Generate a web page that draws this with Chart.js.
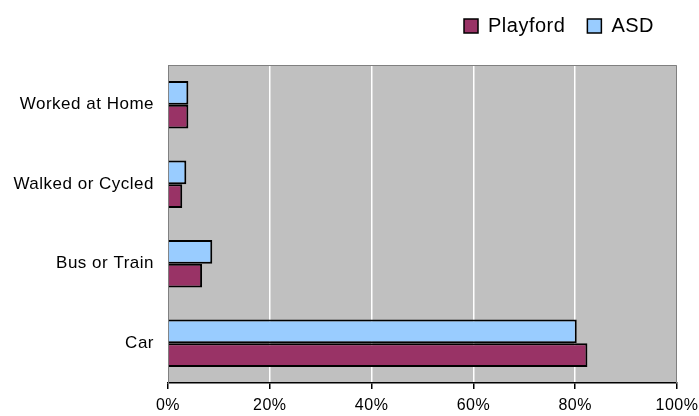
<!DOCTYPE html>
<html>
<head>
<meta charset="utf-8">
<script src="https://cdn.jsdelivr.net/npm/chart.js@4/dist/chart.umd.min.js"></script>
<style>
  html, body { margin: 0; padding: 0; background: #fff; }
  #wrap { width: 699px; height: 416px; }
</style>
</head>
<body>
<div id="wrap"><canvas id="chart"></canvas></div>
<script>
const categories = ['Worked at Home', 'Walked or Cycled', 'Bus or Train', 'Car']
const asdValues = [4.0, 3.6, 8.7, 80.3]
const playfordValues = [4.0, 2.8, 6.7, 82.4]
const xTicks = [0, 20, 40, 60, 80, 100]

const FONT = 'Liberation Sans, Arial, sans-serif'
const LETTER_SPACING = '0.5px'

// the old spreadsheet text is spaced out a little
const spacing = {
  id: 'spacing',
  beforeUpdate (chart) { chart.ctx.letterSpacing = LETTER_SPACING },
  beforeLayout (chart) { chart.ctx.letterSpacing = LETTER_SPACING },
  beforeDraw (chart) { chart.ctx.letterSpacing = LETTER_SPACING }
}

// fixed legend band above the plot
const legendBox = {
  id: 'legendBox',
  afterInit (chart) {
    const legend = chart.legend
    const fit = legend.fit
    legend.fit = function () {
      fit.call(this)
      this.height = 65
    }
  },
  afterLayout (chart) {
    chart.legend.top = -6
    chart.legend.right = 676
  }
}

// grey plot background plus the thin top/right frame
const plotArea = {
  id: 'plotArea',
  beforeDraw (chart) {
    const { ctx, chartArea: a } = chart
    ctx.save()
    ctx.fillStyle = '#C0C0C0'
    ctx.fillRect(a.left, a.top, a.right - a.left, a.bottom - a.top)
    ctx.restore()
  },
  afterDraw (chart) {
    const { ctx, chartArea: a } = chart
    ctx.save()
    ctx.strokeStyle = '#808080'
    ctx.lineWidth = 1
    ctx.beginPath()
    ctx.moveTo(a.left, a.top + 0.5)
    ctx.lineTo(a.right - 0.5, a.top + 0.5)
    ctx.lineTo(a.right - 0.5, a.bottom)
    ctx.stroke()
    ctx.restore()
  }
}

new Chart(document.getElementById('chart'), {
  type: 'bar',
  data: {
    labels: categories,
    datasets: [{
      label: 'ASD',
      data: asdValues,
      backgroundColor: '#99CCFF',
      borderColor: '#000',
      borderWidth: 2
    }, {
      label: 'Playford',
      data: playfordValues,
      backgroundColor: '#993366',
      borderColor: '#000',
      borderWidth: 2
    }]
  },
  options: {
    indexAxis: 'y',
    responsive: true,
    maintainAspectRatio: false,
    animation: false,
    categoryPercentage: 0.6,
    barPercentage: 1,
    layout: { padding: { top: 0, right: 22, bottom: 0, left: 0 } },
    plugins: {
      legend: {
        align: 'end',
        reverse: true,
        labels: {
          color: '#000',
          font: { family: FONT, size: 20 },
          boxWidth: 14,
          boxHeight: 14,
          padding: 22,
          generateLabels (chart) {
            return chart.data.datasets.map((ds, i) => ({
              text: ds.label,
              fillStyle: ds.backgroundColor,
              strokeStyle: '#000',
              lineWidth: 1.5,
              datasetIndex: i
            }))
          }
        }
      },
      tooltip: { enabled: false }
    },
    scales: {
      x: {
        min: 0,
        max: 100,
        afterBuildTicks: scale => { scale.ticks = xTicks.map(v => ({ value: v })) },
        afterFit: scale => {
          scale.height = 33
          scale.paddingRight = 0
          scale.paddingLeft = 0
        },
        ticks: {
          color: '#000',
          font: { family: FONT, size: 16 },
          callback: v => v + '%',
          maxRotation: 0,
          padding: 7
        },
        grid: {
          color: ctx => (ctx.tick && (ctx.tick.value === 0 || ctx.tick.value === 100)) ? 'rgba(0,0,0,0)' : '#fff',
          lineWidth: 1.5,
          tickColor: '#000',
          tickLength: 6
        },
        border: { color: '#000', width: 1.5 }
      },
      y: {
        afterFit: scale => { scale.width = 168 },
        ticks: {
          color: '#000',
          font: { family: FONT, size: 17 },
          padding: 14
        },
        grid: { display: false, drawTicks: false },
        border: { color: '#808080', width: 1 }
      }
    }
  },
  plugins: [spacing, legendBox, plotArea]
})
</script>
</body>
</html>
